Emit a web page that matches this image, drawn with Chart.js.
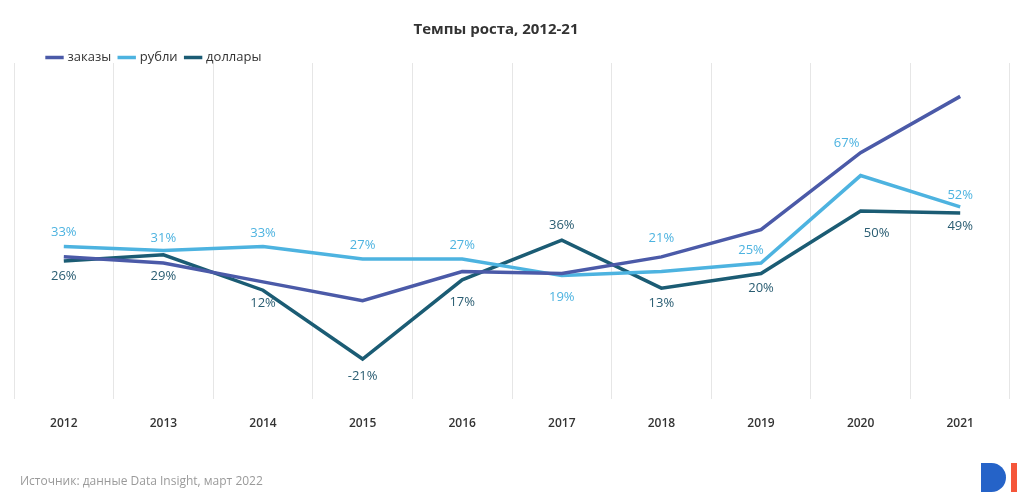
<!DOCTYPE html>
<html>
<head>
<meta charset="utf-8">
<script src="https://cdn.jsdelivr.net/npm/chart.js@4"></script>
<style>
    body { margin: 0; background: #fff; }
    #wrap { position: relative; width: 1024px; height: 499px; }
    #source { position: absolute; left: 20px; top: 472px; font: 12px "Open Sans", sans-serif; color: #9a9a9a; }
    #logo-d { position: absolute; left: 981px; top: 463px; width: 25px; height: 29px; background: #2563c8; border-radius: 0 15px 15px 0; }
    #logo-i { position: absolute; left: 1011px; top: 463px; width: 6px; height: 29px; background: #f5563a; }
</style>
</head>
<body>
<div id="wrap">
    <canvas id="growth"></canvas>
    <div id="source">Источник: данные Data Insight, март 2022</div>
    <div id="logo-d" title="Data Insight"></div><div id="logo-i"></div>
</div>
<script>
const years = ['2012', '2013', '2014', '2015', '2016', '2017', '2018', '2019', '2020', '2021'];
const orders = [28, 25, 16, 7, 21, 20, 28, 41, 78, 105];
const rubles = [33, 31, 33, 27, 27, 19, 21, 25, 67, 52];
const dollars = [26, 29, 12, -21, 17, 36, 13, 20, 50, 49];

// label offsets, hand placed like in the source
const rubOffY = [-14, -12, -13, -14, -14, 22, -33, -13, -32, -12];
const rubOffX = [0, 0, 0, 0, 0, 0, 0, -10, -14, 0];
const dolOffY = [15, 22, 13, 17, 23, -15, 15, 15, 22, 13];
const dolOffX = [0, 0, 0, 0, 0, 0, 0, 0, 16, 0];

const colors = {
    orders: '#4b5aa8',
    rubles: '#4db3e0',
    dollars: '#1b5c74'
};

function shift(box, dx, dy) {
    box.left += dx; box.right += dx;
    box.top += dy; box.bottom += dy;
}

const pointLabels = {
    id: 'pointLabels',
    afterLayout(chart) {
        // the legend overlaps the top of the plot a little in the source
        shift(chart.legend, 25, 11);
        shift(chart.titleBlock, -16, 8);
    },
    afterDatasetsDraw(chart) {
        const ctx = chart.ctx;
        ctx.save();
        ctx.font = '13px "Open Sans", sans-serif';
        ctx.textAlign = 'center';
        ctx.textBaseline = 'middle';
        chart.data.datasets.forEach((ds, di) => {
            if (!ds.offY) return;
            ctx.fillStyle = ds.labelColor;
            chart.getDatasetMeta(di).data.forEach((pt, i) => {
                ctx.fillText(ds.data[i] + '%', pt.x + ds.offX[i], pt.y + ds.offY[i]);
            });
        });
        ctx.restore();
    }
};

window.onload = () => {
    new Chart(document.getElementById('growth'), {
        type: 'line',
        data: {
            labels: years,
            datasets: [
                { label: 'заказы', data: orders, borderColor: colors.orders, backgroundColor: colors.orders, borderWidth: 3.5 },
                { label: 'рубли', data: rubles, borderColor: colors.rubles, backgroundColor: colors.rubles, borderWidth: 3.5,
                  offY: rubOffY, offX: rubOffX, labelColor: '#4db3e0' },
                { label: 'доллары', data: dollars, borderColor: colors.dollars, backgroundColor: colors.dollars, borderWidth: 3.5,
                  offY: dolOffY, offX: dolOffX, labelColor: '#2a5d72' }
            ]
        },
        options: {
            responsive: true,
            maintainAspectRatio: false,
            animation: false,
            elements: {
                line: { tension: 0 },
                point: { radius: 0 }
            },
            layout: { padding: { left: 14, right: 14, top: 0, bottom: 50 } },
            plugins: {
                title: {
                    display: true,
                    text: 'Темпы роста, 2012-21',
                    color: '#333',
                    font: { family: '"Open Sans", sans-serif', size: 15, weight: 'bold' },
                    padding: { top: 13, bottom: 0 }
                },
                legend: {
                    align: 'start',
                    labels: {
                        usePointStyle: true,
                        pointStyle: 'line',
                        boxWidth: 14,
                        padding: 9,
                        color: '#333',
                        font: { family: '"Open Sans", sans-serif', size: 13 }
                    }
                },
                tooltip: { enabled: false }
            },
            scales: {
                x: {
                    offset: true,
                    grid: { offset: true, color: '#e6e6e6', drawTicks: false },
                    border: { display: false },
                    ticks: { color: '#333', padding: 18, font: { family: '"Open Sans", sans-serif', size: 12, weight: '600' } }
                },
                y: { display: false, min: -40, max: 121 }
            }
        },
        plugins: [pointLabels]
    });
};
</script>
</body>
</html>
